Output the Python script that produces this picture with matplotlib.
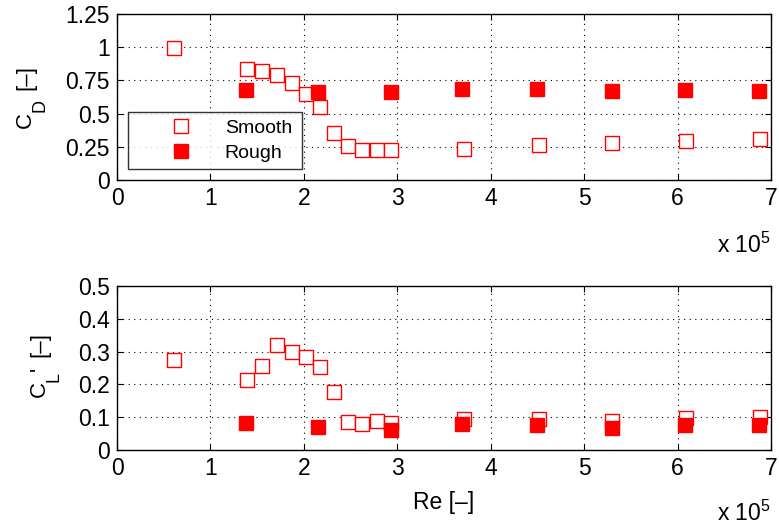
import matplotlib
matplotlib.use("Agg")
import matplotlib.pyplot as plt

plt.rcParams['font.family'] = ['Liberation Sans', 'DejaVu Sans']
plt.rcParams['mathtext.fontset'] = 'custom'
plt.rcParams['mathtext.rm'] = 'Liberation Sans'

re_smooth = [0.615, 1.393, 1.555, 1.712, 1.870, 2.022, 2.170, 2.318, 2.471, 2.624,
             2.781, 2.938, 3.716, 4.512, 5.298, 6.090, 6.886]
cd_smooth = [0.993, 0.839, 0.824, 0.790, 0.733, 0.651, 0.552, 0.351, 0.257, 0.225,
             0.223, 0.223, 0.235, 0.260, 0.277, 0.295, 0.309]
cl_smooth = [0.275, 0.214, 0.256, 0.321, 0.300, 0.284, 0.254, 0.178, 0.084, 0.080,
             0.087, 0.083, 0.096, 0.094, 0.089, 0.097, 0.100]

re_rough = [1.379, 2.156, 2.929, 3.697, 4.493, 5.294, 6.081, 6.867]
cd_rough = [0.678, 0.666, 0.666, 0.686, 0.686, 0.668, 0.678, 0.673]
cl_rough = [0.083, 0.069, 0.062, 0.079, 0.077, 0.068, 0.076, 0.075]

xticks = [0, 1, 2, 3, 4, 5, 6, 7]
cd_ticks = [0, 0.25, 0.5, 0.75, 1, 1.25]
cd_ticklabels = ['0', '0.25', '0.5', '0.75', '1', '1.25']
cl_ticks = [0, 0.1, 0.2, 0.3, 0.4, 0.5]
cl_ticklabels = ['0', '0.1', '0.2', '0.3', '0.4', '0.5']

W, H = 779, 526
fig = plt.figure(figsize=(W / 100, H / 100), dpi=100)
ax1 = fig.add_axes([117/W, 1-180/H, (771-117)/W, (180-14)/H])
ax2 = fig.add_axes([117/W, 1-450/H, (771-117)/W, (450-286)/H])

FS = 16.5
ms = 10

def style(ax, yticks, ylabels, ylim, exp_offset):
    ax.set_xlim(0, 7)
    ax.set_ylim(*ylim)
    ax.set_xticks(xticks)
    ax.set_xticklabels([str(t) for t in xticks], fontsize=FS)
    ax.set_yticks(yticks)
    ax.set_yticklabels(ylabels, fontsize=FS)
    ax.tick_params(direction='in', top=True, right=True, length=4, width=0.8, pad=5)
    ax.grid(True, linestyle=(0, (1, 4)), color='black', linewidth=0.8)
    for s in ax.spines.values():
        s.set_linewidth(1.0)
    ax.annotate(r'x 10$^\mathregular{5}$', xy=(1.0, 0.0), xycoords='axes fraction',
                xytext=(0, -exp_offset), textcoords='offset pixels',
                ha='right', va='baseline', fontsize=FS)

def vtext(x, y, s, size):
    fig.text(x / W, 1 - y / H, s, rotation=90, rotation_mode='anchor',
             ha='left', va='baseline', fontsize=size)

ax1.plot(re_smooth, cd_smooth, 's', ms=ms, mfc='white', mec='red', mew=1.0,
         label='Smooth', linestyle='none', zorder=3)
ax1.plot(re_rough, cd_rough, 's', ms=ms, mfc='red', mec='red', mew=1.0,
         label='Rough', linestyle='none', zorder=3)
style(ax1, cd_ticks, cd_ticklabels, (0, 1.25), 73)
leg = ax1.legend(loc='lower left', bbox_to_anchor=(11/654, 11/166, 174/654, 57/166),
                 mode='expand', fontsize=14, frameon=True, fancybox=False,
                 edgecolor='black', handletextpad=-0.1, handlelength=4.69,
                 borderpad=0.38, labelspacing=0.36, borderaxespad=0)
leg.get_frame().set_linewidth(1.0)

ax2.plot(re_smooth, cl_smooth, 's', ms=ms, mfc='white', mec='red', mew=1.0,
         linestyle='none', zorder=3)
ax2.plot(re_rough, cl_rough, 's', ms=ms, mfc='red', mec='red', mew=1.0,
         linestyle='none', zorder=3)
style(ax2, cl_ticks, cl_ticklabels, (0, 0.5), 71)
ax2.set_xlabel('Re [–]', fontsize=FS, labelpad=8)

# y labels (MATLAB-style subscripts)
vtext(31, 128, 'C', 16)
vtext(45, 112, 'D', 13)
vtext(31, 90, '[–]', 16)

vtext(45, 397, 'C', 16)
vtext(59, 382, 'L', 13)
vtext(45, 371, "'", 16)
vtext(45, 357, '[–]', 16)

fig.savefig('out.png', dpi=100)
